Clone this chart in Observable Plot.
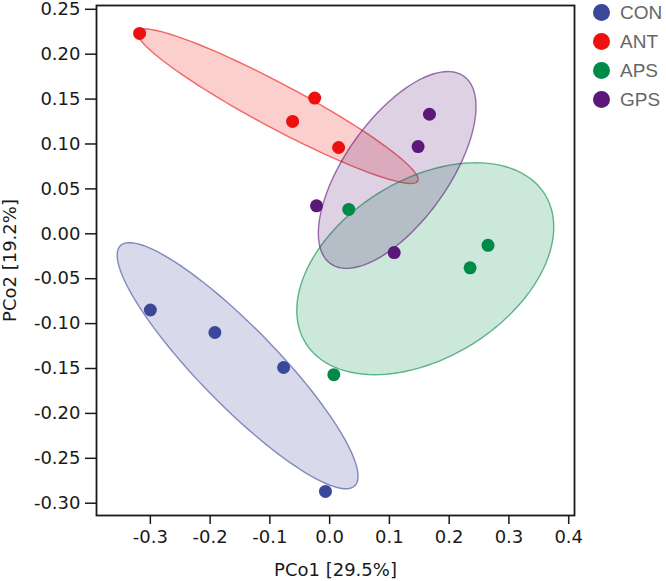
<!DOCTYPE html>
<html>
<head>
<meta charset="utf-8">
<script src="https://cdn.jsdelivr.net/npm/d3@7"></script>
<script src="https://cdn.jsdelivr.net/npm/@observablehq/plot@0.6"></script>
<style>
  body { margin: 0; background: #fff; }
  #wrap { position: relative; width: 666px; height: 581px; }
  #legend { position: absolute; left: 593px; top: -2px; font-family: "Liberation Sans", Arial, sans-serif; font-size: 19px; color: #666; }
  .row { display: flex; align-items: center; height: 29px; }
  .sw { width: 17px; height: 17px; border-radius: 50%; margin-right: 10px; flex: none; }
</style>
</head>
<body>
<div id="wrap"><div id="legend"></div></div>
<script>
// Groups and colours
const groups = ["CON", "ANT", "APS", "GPS"];
const colors = ["#3b4799", "#ee0f0f", "#008a48", "#5b1878"];

// Sample coordinates (PCo1, PCo2) per group
const conX = [-0.300, -0.192, -0.077, -0.007];
const conY = [-0.086, -0.111, -0.150, -0.288];
const antX = [-0.318, -0.025, -0.062, 0.015];
const antY = [0.222, 0.150, 0.124, 0.095];
const apsX = [0.032, 0.265, 0.235, 0.007];
const apsY = [0.026, -0.014, -0.039, -0.158];
const gpsX = [0.167, 0.148, -0.022, 0.108];
const gpsY = [0.132, 0.096, 0.030, -0.022];

// Confidence ellipses (centre and conjugate semi-axis vectors, data units), order = groups
const ellCx = [-0.154, -0.087, 0.160, 0.113];
const ellCy = [-0.148, 0.141, -0.040, 0.070];
const ellUx = [0.1961, 0.2344, 0.2000, 0.1115];
const ellUy = [-0.1337, -0.0833, 0.0830, 0.1044];
const ellVx = [-0.0467, -0.0174, 0.0789, 0.0705];
const ellVy = [-0.0302, -0.0216, -0.0839, -0.0333];

// Tick values and axis labels
const xTicks = [-0.3, -0.2, -0.1, 0.0, 0.1, 0.2, 0.3, 0.4];
const yTicks = [0.25, 0.20, 0.15, 0.10, 0.05, 0.00, -0.05, -0.10, -0.15, -0.20, -0.25, -0.30];
const xLabel = "PCo1 [29.5%]";
const yLabel = "PCo2 [19.2%]";

const xs = [conX, antX, apsX, gpsX];
const ys = [conY, antY, apsY, gpsY];
const pts = [];
groups.forEach((g, i) => xs[i].forEach((x, j) => pts.push({g, x, y: ys[i][j]})));

const ell = [];
groups.forEach((g, i) => {
  const n = 120;
  for (let k = 0; k <= n; k++) {
    const t = 2 * Math.PI * k / n;
    ell.push({g,
      x: ellCx[i] + ellUx[i] * Math.cos(t) + ellVx[i] * Math.sin(t),
      y: ellCy[i] + ellUy[i] * Math.cos(t) + ellVy[i] * Math.sin(t)});
  }
});

const fmt = (d, p) => (Math.abs(d) < 1e-9 ? 0 : d).toFixed(p);

const chart = Plot.plot({
  width: 666, height: 581,
  marginLeft: 96, marginRight: 92, marginTop: 5, marginBottom: 66,
  x: {domain: [-0.3901, 0.4097]},
  y: {domain: [-0.3148, 0.2531]},
  color: {domain: groups, range: colors},
  style: {fontFamily: "'DejaVu Sans', sans-serif", fontSize: "18px", color: "#1a1a1a", background: "white", overflow: "visible"},
  marks: [
    Plot.line(ell, {x: "x", y: "y", z: "g", fill: "g", stroke: "g", fillOpacity: 0.2, strokeOpacity: 0.6, strokeWidth: 1.4}),
    Plot.dot(pts, {x: "x", y: "y", fill: "g", r: 6.5}),
    Plot.frame({stroke: "#1a1a1a", strokeWidth: 1.8}),
    Plot.axisX({ticks: xTicks, tickFormat: d => fmt(d, 1), tickSize: 9, tickPadding: 6, strokeWidth: 1.5,
      label: xLabel, labelAnchor: "center", labelArrow: "none", labelOffset: 60}),
    Plot.axisY({ticks: yTicks, tickFormat: d => fmt(d, 2), tickSize: 11, tickPadding: 5, strokeWidth: 1.5, dy: 1,
      label: yLabel, labelAnchor: "center", labelArrow: "none", labelOffset: 93})
  ]
});
document.getElementById("wrap").prepend(chart);

const legend = document.getElementById("legend");
groups.forEach((g, i) => {
  const row = document.createElement("div");
  row.className = "row";
  row.innerHTML = `<span class="sw" style="background:${colors[i]}"></span><span>${g}</span>`;
  legend.appendChild(row);
});
</script>
</body>
</html>
